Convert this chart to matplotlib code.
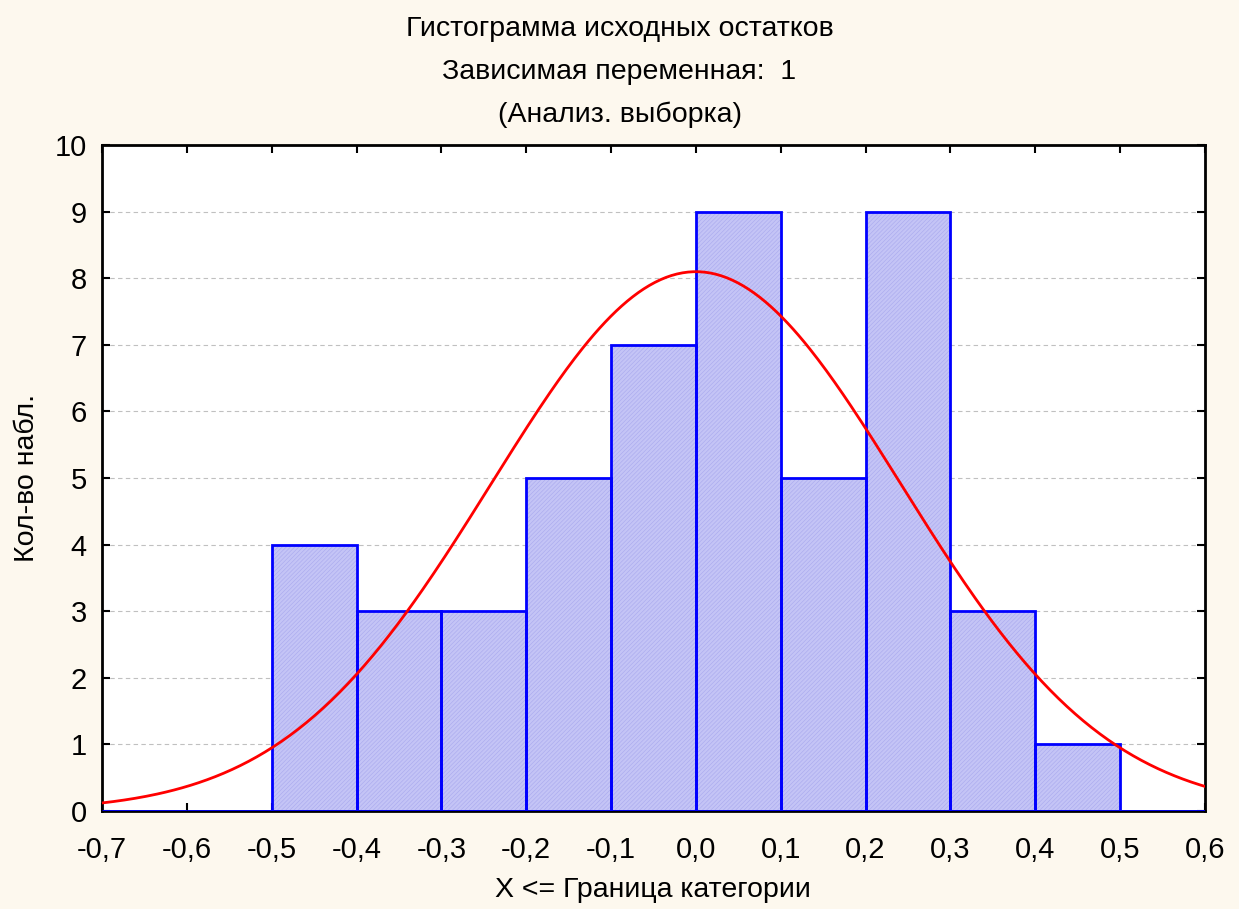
import matplotlib.pyplot as plt
import numpy as np

plt.rcParams['font.family'] = ['Liberation Sans', 'DejaVu Sans']

# данные гистограммы
bin_left = [-0.7, -0.6, -0.5, -0.4, -0.3, -0.2, -0.1, 0.0, 0.1, 0.2, 0.3, 0.4, 0.5]
counts = [0, 0, 4, 3, 3, 5, 7, 9, 5, 9, 3, 1, 0]
bin_width = 0.1
n_obs = sum(counts)

# параметры нормальной кривой
mean = 0.0
sd = 0.2414

xticks = [-0.7, -0.6, -0.5, -0.4, -0.3, -0.2, -0.1, 0.0, 0.1, 0.2, 0.3, 0.4, 0.5, 0.6]
yticks = list(range(0, 11))

bg = '#fdf8ee'
fig = plt.figure(figsize=(12.39, 9.09), dpi=100, facecolor=bg)
ax = fig.add_axes([102 / 1239, 1 - 811 / 909, (1205 - 102) / 1239, (811 - 145) / 909])

# заливка с мелкой штриховкой
plt.rcParams['hatch.linewidth'] = 0.4
ax.bar(bin_left, counts, width=bin_width, align='edge', color='#c4c4f6',
       edgecolor='#a8a8ee', hatch='////////', linewidth=0, zorder=2)
# контуры столбцов
ax.bar(bin_left, counts, width=bin_width, align='edge', color='none',
       edgecolor='#0000ff', linewidth=2, zorder=3)

# нормальная кривая
xs = np.linspace(-0.7, 0.6, 400)
ys = n_obs * bin_width / (sd * np.sqrt(2 * np.pi)) * np.exp(-(xs - mean) ** 2 / (2 * sd ** 2))
ax.plot(xs, ys, color='#ff0000', linewidth=2, zorder=4)

ax.set_xlim(-0.7, 0.6)
ax.set_ylim(0, 10)
ax.set_xticks(xticks)
ax.set_xticklabels([f'{v:.1f}'.replace('.', ',').replace('-0,0', '0,0') for v in xticks])
ax.set_yticks(yticks)
ax.yaxis.grid(True, linestyle=(0, (4, 3)), color='#c0c0c0', linewidth=0.8, zorder=1)
ax.set_axisbelow(True)
ax.tick_params(direction='in', top=True, right=True, length=6, width=1.5,
               labelsize=21)
ax.tick_params(axis='x', pad=18)
ax.tick_params(axis='y', pad=11)
for s in ax.spines.values():
    s.set_linewidth(2)

# подписи осей и заголовок
fig.text(653 / 1239, 1 - 890 / 909, 'X <= Граница категории', ha='center', va='center', fontsize=20.5)
fig.text(27 / 1239, 1 - 478 / 909, 'Кол-во набл.', ha='center', va='center', rotation=90, fontsize=20.5)

fig.text(0.5, 1 - 29 / 909, 'Гистограмма исходных остатков', ha='center', va='center', fontsize=20.5)
fig.text(0.5, 1 - 72 / 909, 'Зависимая переменная:  1', ha='center', va='center', fontsize=20.5)
fig.text(0.5, 1 - 115 / 909, '(Анализ. выборка)', ha='center', va='center', fontsize=20.5)

fig.savefig('out.png', dpi=100, facecolor=bg)
